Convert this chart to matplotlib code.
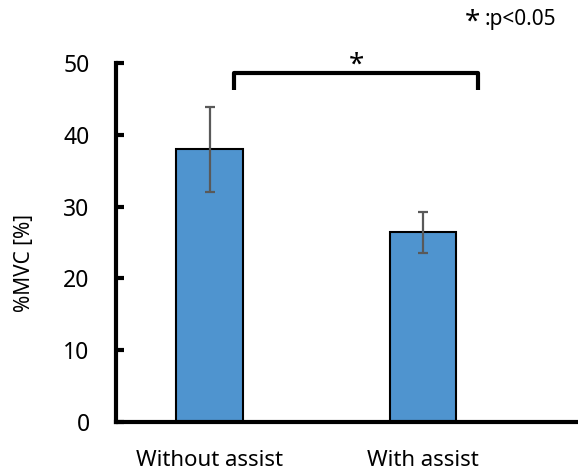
import numpy as np
import matplotlib
matplotlib.use('Agg')
import matplotlib.pyplot as plt

# Data
categories = ['Without assist', 'With assist']
means = [38.0, 26.4]
errors = [5.9, 2.8]
yticks = [0, 10, 20, 30, 40, 50]

plt.rcParams['font.family'] = ['Noto Sans', 'DejaVu Sans']

F1 = plt.figure(figsize=(5.78, 4.73), dpi=100)
ax = F1.add_axes([0.2007, 0.1078, 0.7993, 0.759])

x = np.arange(len(categories))
ax.bar(x, means, width=0.31, color='#4F94CF', edgecolor='black', linewidth=1.5, zorder=2)
ax.errorbar(x, means, yerr=errors, fmt='none', ecolor='#595959', elinewidth=1.6,
            capsize=3.6, capthick=1.6, zorder=3)

ax.set_xlim(-0.438, 1.726)
ax.set_ylim(0, 50)
ax.set_yticks(yticks)
ax.set_xticks(x)
ax.set_xticklabels(categories, fontsize=16)
ax.tick_params(axis='y', direction='in', length=6, width=3, labelsize=16.5, pad=19)
ax.tick_params(axis='x', length=0, pad=20)
ax.set_ylabel('%MVC [%]', fontsize=15)
ax.yaxis.set_label_coords(-0.175, 0.443)

for s in ['top', 'right']:
    ax.spines[s].set_visible(False)
for s in ['left', 'bottom']:
    ax.spines[s].set_linewidth(3)

# Significance bracket
bx = [0.115, 0.115, 1.256, 1.256]
by = [46.3, 48.6, 48.6, 46.3]
ax.plot(bx, by, color='black', linewidth=3, solid_capstyle='butt', clip_on=False)
ax.text(0.69, 48.7, '*', fontsize=20, fontweight='bold', ha='center', va='baseline')

F1.text(0.8045, 0.937, '*', fontsize=20, fontweight='bold', ha='left', va='baseline')
F1.text(0.839, 0.947, ':p<0.05', fontsize=15, ha='left', va='baseline')

plt.savefig('out.png', dpi=100)
